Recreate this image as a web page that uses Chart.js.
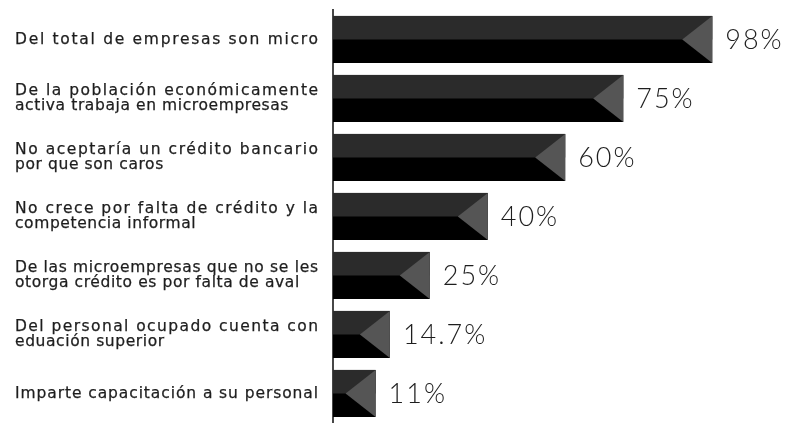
<!DOCTYPE html>
<html>
<head>
<meta charset="utf-8">
<script src="https://cdn.jsdelivr.net/npm/chart.js@4/dist/chart.umd.min.js"></script>
<style>
  html, body { margin: 0; padding: 0; background: #ffffff; }
  #wrap { width: 792px; height: 423px; position: relative; }
</style>
</head>
<body>
<div id="wrap"><canvas id="chart"></canvas></div>
<script>
// Indicadores de la microempresa
const categories = [
  ['Del total de empresas son micro'],
  ['De la población económicamente', 'activa trabaja en microempresas'],
  ['No aceptaría un crédito bancario', 'por que son caros'],
  ['No crece por falta de crédito y la', 'competencia informal'],
  ['De las microempresas que no se les', 'otorga crédito es por falta de aval'],
  ['Del personal ocupado cuenta con', 'eduación superior'],
  ['Imparte capacitación a su personal']
];
const percentages = [98, 75, 60, 40, 25, 14.7, 11];

const BAR_BOTTOM = '#000000';
const BAR_TOP = '#2b2b2b';
const BAR_TIP = '#555555';
const TEXT = '#1e1e1e';

const LABEL_LEFT = 15;
const LABEL_BOX = 303;
const LABEL_FONT = '15.5px "DejaVu Sans", sans-serif';
const LABEL_LINE = 15.5;

// Two-tone bars with a notched tip, plus the value text after each bar
const barStyle = {
  id: 'barStyle',
  afterDatasetsDraw(chart) {
    const ctx = chart.ctx;
    const meta = chart.getDatasetMeta(0);
    meta.data.forEach((bar, i) => {
      const { x, y, base, height } = bar.getProps(['x', 'y', 'base', 'height'], true);
      const top = y - height / 2;
      const bottom = y + height / 2;
      ctx.save();
      ctx.fillStyle = BAR_TOP;
      ctx.fillRect(base, top, x - base, height / 2);
      const notch = Math.min(30, x - base);
      ctx.fillStyle = BAR_TIP;
      ctx.beginPath();
      ctx.moveTo(x, top);
      ctx.lineTo(x - notch, y);
      ctx.lineTo(x, bottom);
      ctx.closePath();
      ctx.fill();

      ctx.fillStyle = TEXT;
      ctx.font = '300 27px Lato, "Open Sans", sans-serif';
      ctx.letterSpacing = '2px';
      ctx.textAlign = 'left';
      ctx.textBaseline = 'middle';
      ctx.fillText(percentages[i] + '%', x + 13, y + 1);
      ctx.restore();
    });
  }
};

// Category text block: justified lines, last line of a paragraph left as is
const categoryText = {
  id: 'categoryText',
  afterDraw(chart) {
    const ctx = chart.ctx;
    const yScale = chart.scales.y;
    ctx.save();
    ctx.font = LABEL_FONT;
    ctx.fillStyle = TEXT;
    ctx.strokeStyle = TEXT;
    ctx.lineWidth = 0.25;
    ctx.textAlign = 'left';
    ctx.textBaseline = 'middle';
    chart.data.labels.forEach((lines, i) => {
      const cy = yScale.getPixelForValue(i);
      const n = lines.length;
      lines.forEach((line, j) => {
        const ly = cy + (j - (n - 1) / 2) * LABEL_LINE;
        ctx.letterSpacing = '0px';
        const natural = ctx.measureText(line).width;
        const justify = n === 1 || j < n - 1;
        const spacing = justify ? (LABEL_BOX - natural) / (line.length - 1) : 0.6;
        ctx.letterSpacing = spacing.toFixed(3) + 'px';
        ctx.fillText(line, LABEL_LEFT, ly);
        ctx.strokeText(line, LABEL_LEFT, ly);
      });
    });
    ctx.restore();
  }
};

new Chart(document.getElementById('chart'), {
  type: 'bar',
  data: {
    labels: categories,
    datasets: [{
      data: percentages,
      backgroundColor: BAR_BOTTOM,
      borderWidth: 0,
      categoryPercentage: 1,
      barPercentage: 0.8
    }]
  },
  options: {
    indexAxis: 'y',
    responsive: true,
    maintainAspectRatio: false,
    animation: false,
    layout: { padding: { left: 15, right: 72, top: 10, bottom: 0 } },
    plugins: {
      legend: { display: false },
      tooltip: { enabled: false }
    },
    scales: {
      x: {
        display: false,
        min: 0,
        max: 100
      },
      y: {
        z: 1,
        afterFit(scale) { scale.width = 318; },
        grid: { display: false },
        border: { display: true, color: '#474747', width: 2 },
        ticks: { display: false }
      }
    }
  },
  plugins: [barStyle, categoryText]
});
</script>
</body>
</html>
